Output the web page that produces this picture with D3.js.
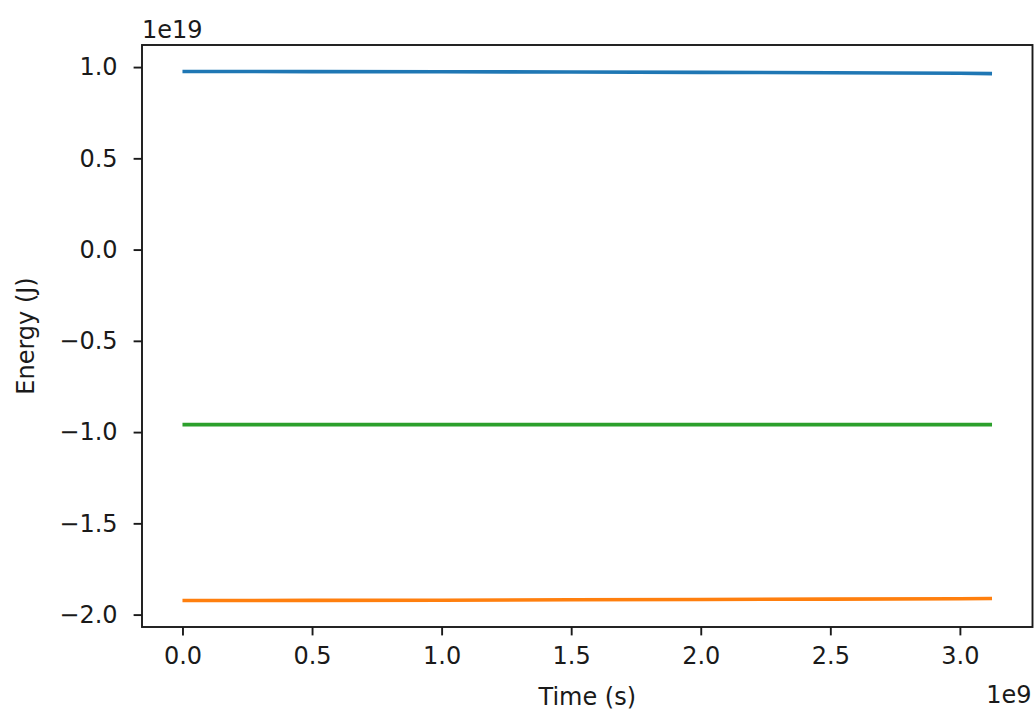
<!DOCTYPE html>
<html>
<head>
<meta charset="utf-8">
<script src="https://cdn.jsdelivr.net/npm/d3@7"></script>
<style>
  html, body { margin: 0; padding: 0; background: #fff; }
  svg { display: block; }
  text { font-family: "DejaVu Sans", sans-serif; fill: #1a1a1a; }
</style>
</head>
<body>
<svg id="chart" width="1035" height="715"></svg>
<script>
// Simulation time samples (seconds)
const time = [0, 0.5e9, 1.0e9, 1.5e9, 2.0e9, 2.5e9, 3.0e9, 3.124e9];
// Kinetic, potential and total energy (J)
const kinetic   = [0.976e19, 0.975e19, 0.974e19, 0.973e19, 0.971e19, 0.969e19, 0.966e19, 0.964e19];
const potential = [-1.923e19, -1.922e19, -1.921e19, -1.919e19, -1.917e19, -1.915e19, -1.913e19, -1.912e19];
const total     = [-0.959e19, -0.959e19, -0.959e19, -0.959e19, -0.959e19, -0.959e19, -0.959e19, -0.959e19];

const xTicks = [0, 0.5e9, 1.0e9, 1.5e9, 2.0e9, 2.5e9, 3.0e9];
const yTicks = [1.0e19, 0.5e19, 0, -0.5e19, -1.0e19, -1.5e19, -2.0e19];
const xOffsetLabel = "1e9";
const yOffsetLabel = "1e19";
const xLabel = "Time (s)";
const yLabel = "Energy (J)";

const colors = ["#1f77b4", "#ff7f0e", "#2ca02c"];
const series = [kinetic, potential, total];

const svg = d3.select("#chart");
const box = { left: 142, right: 1032.5, top: 45, bottom: 627 };

// 5% data margins on both axes
function padded(lo, hi) {
  const m = (hi - lo) * 0.05;
  return [lo - m, hi + m];
}
const allY = series.flat();
const x = d3.scaleLinear()
  .domain(padded(d3.min(time), d3.max(time)))
  .range([box.left, box.right]);
const y = d3.scaleLinear()
  .domain(padded(d3.min(allY), d3.max(allY)))
  .range([box.bottom, box.top]);

const fmt = d3.format(".1f");
const tickLen = 8.4;

// Lines
const line = d3.line()
  .x((d, i) => x(time[i]))
  .y(d => y(d));

series.forEach((s, k) => {
  svg.append("path")
    .datum(s)
    .attr("d", line)
    .attr("fill", "none")
    .attr("stroke", colors[k])
    .attr("stroke-width", 3.6)
    .attr("stroke-linecap", "butt");
});

// Axes
const xAxis = d3.axisBottom(x)
  .tickValues(xTicks)
  .tickSize(tickLen)
  .tickPadding(12)
  .tickFormat(d => fmt(d / 1e9));
const yAxis = d3.axisLeft(y)
  .tickValues(yTicks)
  .tickSize(tickLen)
  .tickPadding(16)
  .tickFormat(d => fmt(d / 1e19));

const gx = svg.append("g")
  .attr("transform", `translate(0,${box.bottom})`)
  .call(xAxis);
const gy = svg.append("g")
  .attr("transform", `translate(${box.left},0)`)
  .call(yAxis);

[gx, gy].forEach(g => {
  g.select(".domain").remove();
  g.selectAll(".tick line").attr("stroke", "#1a1a1a").attr("stroke-width", 1.9);
  g.selectAll(".tick text")
    .style("font-family", "'DejaVu Sans', sans-serif")
    .style("font-size", "24px")
    .attr("fill", "#1a1a1a");
});

// Frame
svg.append("rect")
  .attr("x", box.left)
  .attr("y", box.top)
  .attr("width", box.right - box.left)
  .attr("height", box.bottom - box.top)
  .attr("fill", "none")
  .attr("stroke", "#1a1a1a")
  .attr("stroke-width", 1.9);

// Offset labels
svg.append("text")
  .attr("x", box.left)
  .attr("y", 38)
  .attr("font-size", 24)
  .text(yOffsetLabel);
svg.append("text")
  .attr("x", box.right - 1)
  .attr("y", 703)
  .attr("text-anchor", "end")
  .attr("font-size", 24)
  .text(xOffsetLabel);

// Axis titles
svg.append("text")
  .attr("x", (box.left + box.right) / 2)
  .attr("y", 705)
  .attr("text-anchor", "middle")
  .attr("font-size", 24)
  .text(xLabel);
svg.append("text")
  .attr("transform", `translate(33.5,${(box.top + box.bottom) / 2}) rotate(-90)`)
  .attr("text-anchor", "middle")
  .attr("font-size", 24)
  .text(yLabel);
</script>
</body>
</html>
